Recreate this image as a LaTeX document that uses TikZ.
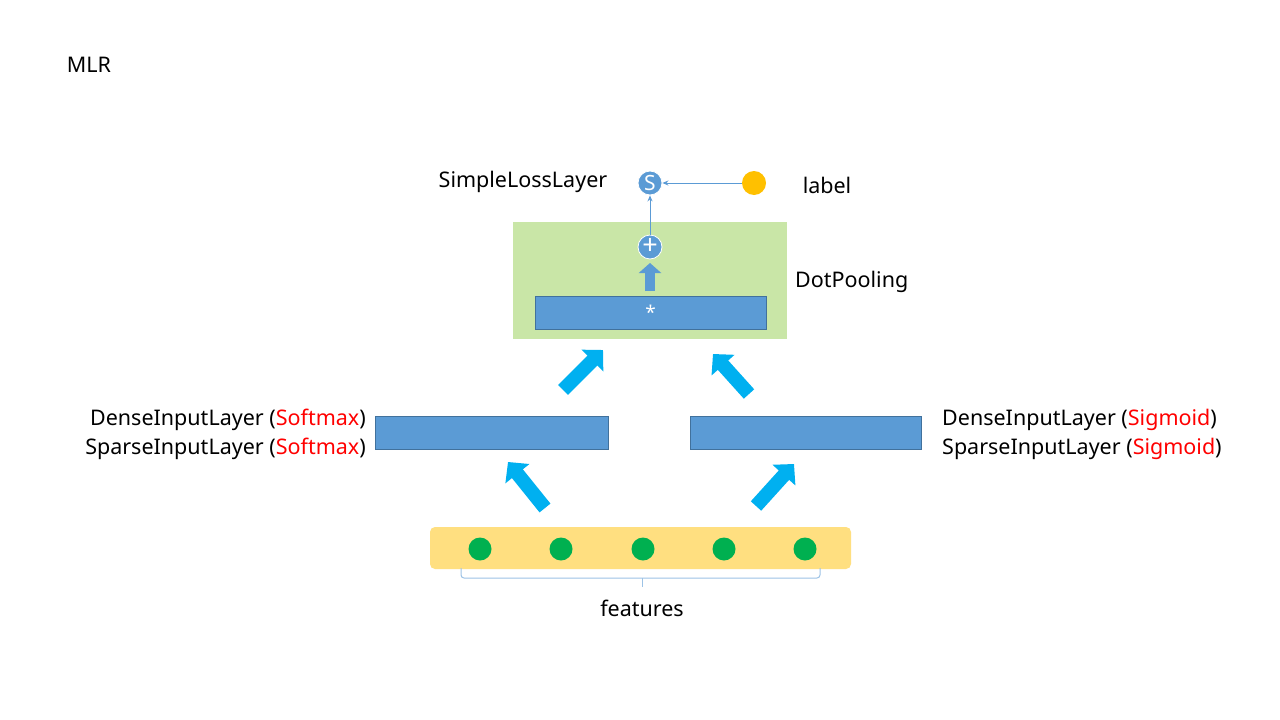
\documentclass[tikz,border=0pt]{standalone}
\usepackage{fontspec}
\setmainfont{Noto Sans}
\usetikzlibrary{arrows.meta}
\definecolor{bluefill}{HTML}{5B9BD5}
\definecolor{blueline}{HTML}{41719C}
\definecolor{cyanarrow}{HTML}{00B0F0}
\definecolor{greenbox}{HTML}{C9E6A7}
\definecolor{yellowbox}{HTML}{FFDF80}
\definecolor{featgreen}{HTML}{00B050}
\definecolor{labelorange}{HTML}{FFC000}
\definecolor{bracecol}{HTML}{9DC3E6}
\definecolor{hl}{HTML}{FF0000}
\tikzset{
  txt/.style={font=\fontsize{21.5}{26}\selectfont, text=black, inner sep=0pt},
  opnode/.style={circle, fill=bluefill, draw=white, line width=0.8pt, minimum size=24pt, inner sep=0pt, text=white, font=\fontsize{21}{21}\selectfont},
  feat/.style={circle, fill=featgreen, minimum size=23pt, inner sep=0pt},
  bar/.style={rectangle, fill=bluefill, draw=blueline, line width=0.8pt, inner sep=0pt},
  bigarrow/.style={draw=cyanarrow, line width=14pt, -{Triangle[width=30pt,length=15pt]}, fill=cyanarrow},
  smallarrow/.style={draw=bluefill, line width=10pt, -{Triangle[width=22pt,length=10pt]}, fill=bluefill},
  thinarrow/.style={draw=bluefill, line width=1pt, -{Stealth[length=6pt,width=5pt]}},
  bracestyle/.style={draw=bracecol, line width=1pt, rounded corners=3pt},
}
\begin{document}
\begin{tikzpicture}[x=1pt,y=-1pt]
\useasboundingbox[fill=white] (0,0) rectangle (1280,720);

\node[txt] (title) at (89,65) {MLR};

% DotPooling box
\node[fill=greenbox, minimum width=274pt, minimum height=117pt, inner sep=0pt] (pool) at (650,280.5) {};
\node[txt, anchor=west] (poollab) at (795,282) {DotPooling};
\node[bar, minimum width=231pt, minimum height=33pt, text=white, font=\fontsize{19}{19}\selectfont] (mult) at (650.5,312.5) {*};
\node[opnode, font=\fontsize{27}{27}\selectfont] (plus) at (650,247) {\raisebox{1pt}{+}};
\coordinate (sa1) at (650,291);
\coordinate (sa2) at (650,263);
\draw[smallarrow] (sa1) -- (sa2);

% loss
\node[opnode] (loss) at (650,183) {S};
\node[circle, fill=labelorange, minimum size=24pt, inner sep=0pt] (lab) at (754,183) {};
\node[txt] (labtxt) at (827,185) {label};
\node[txt] (losstxt) at (523,182) {SimpleLossLayer};
\draw[thinarrow] (lab) -- (loss);
\draw[thinarrow] (plus) -- (loss);

% input layers
\node[bar, minimum width=233pt, minimum height=33pt] (left) at (491.5,432.5) {};
\node[bar, minimum width=231pt, minimum height=33pt] (right) at (805.5,432.5) {};
\node[txt, anchor=east] (l1) at (366,420) {DenseInputLayer (\textcolor{hl}{Softmax})};
\node[txt, anchor=east] (l2) at (366,449) {SparseInputLayer (\textcolor{hl}{Softmax})};
\node[txt, anchor=west] (r1) at (942,420) {DenseInputLayer (\textcolor{hl}{Sigmoid})};
\node[txt, anchor=west] (r2) at (942,449) {SparseInputLayer (\textcolor{hl}{Sigmoid})};

% big arrows
\coordinate (a1s) at (563,390);
\coordinate (a1e) at (603,350);
\coordinate (a2s) at (749,394);
\coordinate (a2e) at (713,354);
\coordinate (a3s) at (545,508);
\coordinate (a3e) at (508,462);
\coordinate (a4s) at (756,506);
\coordinate (a4e) at (794,464);
\draw[bigarrow] (a1s) -- (a1e);
\draw[bigarrow] (a2s) -- (a2e);
\draw[bigarrow] (a3s) -- (a3e);
\draw[bigarrow] (a4s) -- (a4e);

% features
\node[fill=yellowbox, rounded corners=5pt, minimum width=421pt, minimum height=42pt, inner sep=0pt] (featbox) at (640.5,548) {};
\foreach \i/\x in {1/480,2/561,3/643,4/724,5/805} {
  \node[feat] (f\i) at (\x,549) {};
}
\coordinate (br1) at (461,568);
\coordinate (br2) at (820,568);
\coordinate (brm) at (642,578);
\coordinate (brt) at (642,587);
\draw[bracestyle] (br1) -- (br1 |- brm) -- (brm) -- (br2 |- brm) -- (br2);
\draw[bracestyle] (brm) -- (brt);
\node[txt] (feattxt) at (642,608) {features};
\end{tikzpicture}
\end{document}
